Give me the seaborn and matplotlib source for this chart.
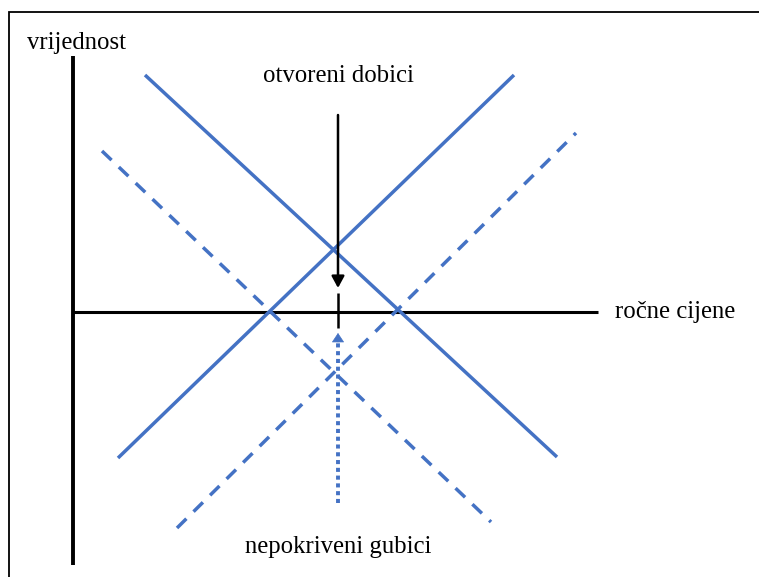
import matplotlib
matplotlib.use("Agg")
import matplotlib.pyplot as plt
import seaborn as sns
import pandas as pd

# ---- data (coordinates relative to the axis origin, in picture units) ----
solid_down_x = [72, 484]
solid_down_y = [237, -145]
solid_up_x = [45, 441]
solid_up_y = [-146, 237]
dashed_down_x = [29, 418]
dashed_down_y = [161, -210]
dashed_up_x = [104, 503]
dashed_up_y = [-216, 179]

axis_y_range = [256, -253]     # vertical axis extent
axis_x_range = [0, 525]        # horizontal axis extent

arrow_x = 265
gain_arrow_y = [197, 24]       # black arrow from top down
gain_tick_y = [19, -16]        # short black segment across the axis
loss_arrow_y = [-191, -21]     # blue dotted arrow from bottom up

label_value = "vrijednost"
label_price = "ročne cijene"
label_gain = "otvoreni dobici"
label_loss = "nepokriveni gubici"

BLUE = "#4472C4"

sns.set_theme(style="white")
plt.rcParams["font.family"] = ["Liberation Serif", "DejaVu Serif"]

W, H = 759, 577
ox, oy = 73, 312
fig = plt.figure(figsize=(W / 100, H / 100), dpi=100)
ax = fig.add_axes([0, 0, 1, 1])
ax.set_xlim(-ox, W - ox)
ax.set_ylim(oy - H, oy)
ax.axis("off")

# frame (top and left edges visible)
fx0, fy0 = 9 - ox, oy - 12
ax.plot([fx0, fx0, W], [oy - H - 5, fy0, fy0], color="black", lw=1.3,
        solid_joinstyle="miter")

def seg(xs, ys, **kw):
    df = pd.DataFrame({"x": xs, "y": ys})
    sns.lineplot(data=df, x="x", y="y", ax=ax, estimator=None, sort=False, **kw)

# axes
seg([0, 0], axis_y_range, color="black", lw=2.8, solid_capstyle="butt")
seg(axis_x_range, [0, 0], color="black", lw=2.2, solid_capstyle="butt")

# blue lines
seg(solid_down_x, solid_down_y, color=BLUE, lw=2.5, solid_capstyle="butt")
seg(solid_up_x, solid_up_y, color=BLUE, lw=2.5, solid_capstyle="butt")
seg(dashed_down_x, dashed_down_y, color=BLUE, lw=2.5)
seg(dashed_up_x, dashed_up_y, color=BLUE, lw=2.5)
for ln in ax.lines[-2:]:
    ln.set_dashes((3.8, 2.9))
    ln.set_dash_capstyle("butt")

# black arrow
ax.annotate("", xy=(arrow_x, gain_arrow_y[1]), xytext=(arrow_x, gain_arrow_y[0]),
            arrowprops=dict(arrowstyle="-|>,head_length=0.7,head_width=0.38",
                            mutation_scale=10, lw=1.8, color="black",
                            shrinkA=0, shrinkB=0))
seg([arrow_x, arrow_x], gain_tick_y, color="black", lw=1.8, solid_capstyle="butt")

# blue dotted arrow
seg([arrow_x, arrow_x], [loss_arrow_y[0], loss_arrow_y[1] - 8], color=BLUE, lw=2.8)
ax.lines[-1].set_dashes((1.05, 0.95))
ax.lines[-1].set_dash_capstyle("butt")
ax.annotate("", xy=(arrow_x, loss_arrow_y[1]), xytext=(arrow_x, loss_arrow_y[1] - 9),
            arrowprops=dict(arrowstyle="-|>,head_length=0.6,head_width=0.4",
                            mutation_scale=10, lw=0.5, color=BLUE,
                            shrinkA=0, shrinkB=0))

# texts
fs = 17.8
ax.text(27 - ox, oy - 43, label_value, fontsize=fs, ha="left", va="center", color="black")
ax.text(615 - ox, 0, label_price, fontsize=fs, ha="left", va="center", color="black")
ax.text(338 - ox, oy - 76, label_gain, fontsize=fs, ha="center", va="center", color="black")
ax.text(338 - ox, oy - 547, label_loss, fontsize=fs, ha="center", va="center", color="black")

fig.savefig("out.png", dpi=100)
